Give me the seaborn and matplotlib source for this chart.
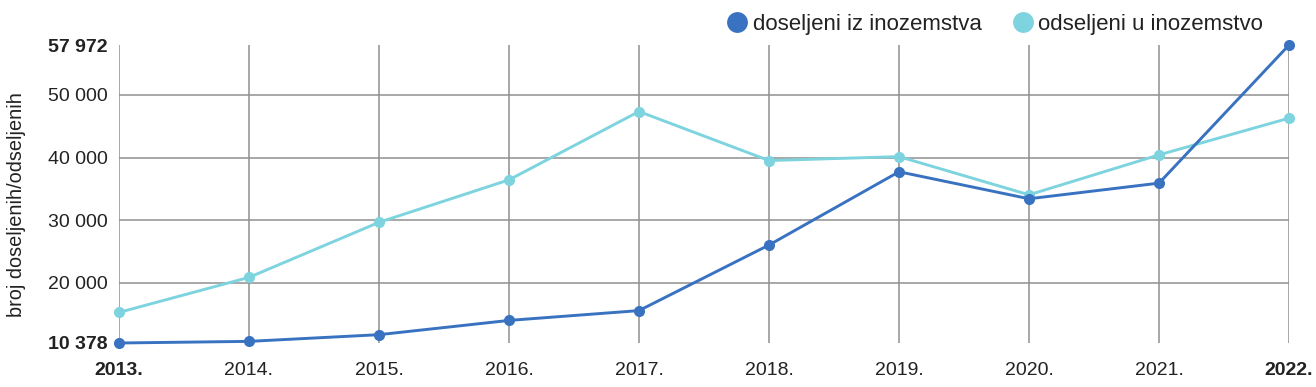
import pandas as pd
import matplotlib.pyplot as plt
import seaborn as sns

# --- Podaci ---
godine = [2013, 2014, 2015, 2016, 2017, 2018, 2019, 2020, 2021, 2022]
doseljeni = [10378, 10638, 11706, 13985, 15553, 26029, 37726, 33414, 35912, 57972]
odseljeni = [15262, 20858, 29651, 36436, 47352, 39515, 40148, 34046, 40424, 46287]
serije = ["doseljeni iz inozemstva", "odseljeni u inozemstvo"]
y_ticks = [10378, 20000, 30000, 40000, 50000, 57972]
y_tick_labels = ["10 378", "20 000", "30 000", "40 000", "50 000", "57 972"]
x_tick_labels = [f"{g}." for g in godine]

BOJE = {serije[0]: "#3872c0", serije[1]: "#7dd4de"}


def main():
    df = pd.DataFrame({
        "godina": godine * 2,
        "broj": doseljeni + odseljeni,
        "serija": [serije[0]] * len(godine) + [serije[1]] * len(godine),
    })

    sns.set_style("white")
    plt.rcParams["font.family"] = ["Liberation Sans", "DejaVu Sans"]

    fig = plt.figure(figsize=(13.16, 3.87), dpi=100)
    ax = fig.add_axes([0.0904, 0.1137, 0.8891, 0.77])

    # mreza
    for g in godine:
        ax.axvline(g, color="#909090", lw=1.1, zorder=1)
    for t in y_ticks[1:-1]:
        ax.axhline(t, color="#909090", lw=1.1, zorder=1)

    # odseljeni prvo, doseljeni iznad
    sns.lineplot(data=df, x="godina", y="broj", hue="serija",
                 hue_order=[serije[1], serije[0]], palette=BOJE,
                 marker="o", markersize=8, markeredgewidth=0, lw=2.1,
                 legend=False, ax=ax, zorder=3, clip_on=False)

    ax.set_xlim(godine[0], godine[-1])
    ax.set_ylim(y_ticks[0], y_ticks[-1])
    ax.set_xticks(godine)
    ax.set_xticklabels(x_tick_labels)
    ax.set_yticks(y_ticks)
    ax.set_yticklabels(y_tick_labels)
    ax.tick_params(axis="both", length=0, labelsize=14, colors="#222222")
    ax.tick_params(axis="x", pad=14)
    ax.tick_params(axis="y", pad=8)
    for lbl in [ax.get_xticklabels()[0], ax.get_xticklabels()[-1],
                ax.get_yticklabels()[0], ax.get_yticklabels()[-1]]:
        lbl.set_fontweight("bold")

    ax.set_xlabel("")
    ax.set_ylabel("broj doseljenih/odseljenih", fontsize=14.3, color="#222222")
    ax.yaxis.set_label_coords(-0.0795, 0.463)
    for s in ax.spines.values():
        s.set_visible(False)

    # legenda
    handles = [plt.Line2D([], [], ls="", marker="o", markersize=15,
                          markeredgewidth=0, color=BOJE[s]) for s in serije]
    fig.legend(handles, serije, loc="upper right", bbox_to_anchor=(0.975, 1.015),
               ncol=2, frameon=False, fontsize=16, handletextpad=-0.3,
               columnspacing=0.85, labelcolor="#222222")

    fig.savefig("out.png", dpi=100)
    plt.close(fig)


if __name__ == "__main__":
    main()
